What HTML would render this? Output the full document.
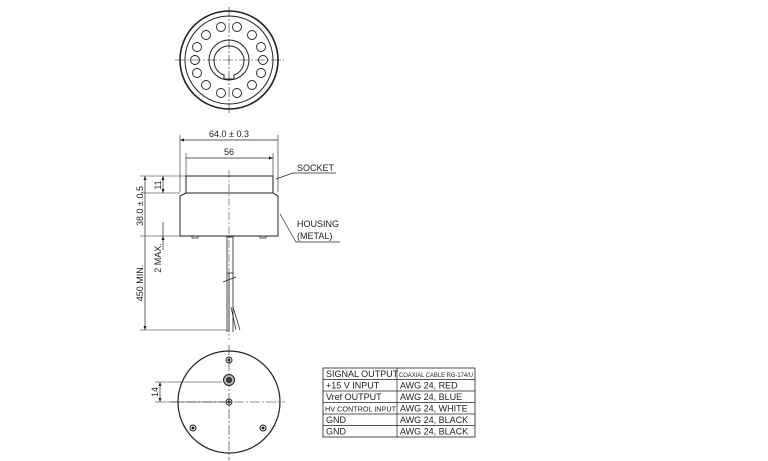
<!DOCTYPE html>
<html><head><meta charset="utf-8"><style>
html,body{margin:0;padding:0;background:#fff;}
svg{display:block;}
text{font-family:"Liberation Sans",sans-serif;fill:#222;}
</style></head><body>
<svg width="768" height="461" viewBox="0 0 768 461" xmlns="http://www.w3.org/2000/svg">
<defs>
<marker id="a" viewBox="0 0 10 10" refX="10" refY="5" markerWidth="6" markerHeight="6" orient="auto-start-reverse"><path d="M0,1L10,5L0,9z" fill="#222"/></marker>
</defs>
<g stroke="#222" fill="none" stroke-width="1">
<circle cx="229" cy="60" r="49" stroke-width="1.6"/>
<circle cx="229" cy="60" r="44"/>
<circle cx="229" cy="60" r="20"/>
<path d="M224,75 A15,15 0 1 1 234,75 L234,79 L224,79 Z"/>
<g stroke-width="0.9">
<circle cx="263" cy="60" r="4.5"/><circle cx="195" cy="60" r="4.5"/>
<circle cx="261" cy="47" r="4.5"/><circle cx="261" cy="73" r="4.5"/>
<circle cx="197" cy="47" r="4.5"/><circle cx="197" cy="73" r="4.5"/>
<circle cx="252" cy="35" r="4.5"/><circle cx="252" cy="85" r="4.5"/>
<circle cx="206" cy="35" r="4.5"/><circle cx="206" cy="85" r="4.5"/>
<circle cx="237" cy="27" r="4.5"/><circle cx="237" cy="93" r="4.5"/>
<circle cx="221" cy="27" r="4.5"/><circle cx="221" cy="93" r="4.5"/>
</g>
<path d="M229,7V115M175,60H284" stroke-width="0.6" stroke-dasharray="10,2,2,2"/>
<path d="M180,135V192M278,135V192M186,153V176M273,153V176" stroke-width="0.6"/>
<path d="M180,140H278M186,158H273" stroke-width="0.7" marker-start="url(#a)" marker-end="url(#a)"/>
<rect x="186" y="176" width="87" height="17"/>
<path d="M186,193L180,196V236H278V196L273,193Z"/>
<path d="M192,236v2h6v-2M260,236v2h6v-2" stroke-width="0.7"/>
<path d="M229,170V340" stroke-width="0.5" stroke-dasharray="8,2,2,2"/>
<rect x="227" y="237" width="6" height="36" stroke-width="0.8"/>
<path d="M227,273V332M233,273V332M229,273V332" stroke-width="0.8"/>
<path d="M233,307L240,330M231,307L236,330" stroke-width="0.7"/>
<path d="M223,282L236,277" stroke-width="0.8"/>
<path d="M140,176H186M140,236H228M140,193H180" stroke-width="0.6"/>
<path d="M145,176V236M145,236V330" stroke-width="0.7" marker-start="url(#a)" marker-end="url(#a)"/>
<path d="M163,176V193" stroke-width="0.7" marker-start="url(#a)" marker-end="url(#a)"/>
<path d="M163,222V236M163,250V236" stroke-width="0.7" marker-end="url(#a)"/>
<path d="M140,330H227" stroke-width="0.6"/>
<path d="M276,179L293,173H336" stroke-width="0.7"/>
<path d="M280,214L296,242H340" stroke-width="0.7"/>
<circle cx="229" cy="402" r="51" stroke-width="1.2"/>
<path d="M229,345V460M170,402H285" stroke-width="0.6" stroke-dasharray="10,2,2,2"/>
<circle cx="229" cy="360" r="3"/><circle cx="229" cy="360" r="1" fill="#222"/>
<circle cx="229" cy="380" r="5.5" fill="#bbb"/><circle cx="229" cy="380" r="2.5" fill="#444"/>
<circle cx="229" cy="402" r="3"/><circle cx="229" cy="402" r="1" fill="#222"/>
<circle cx="193" cy="428" r="3"/><circle cx="193" cy="428" r="1" fill="#222"/>
<circle cx="263" cy="428" r="3"/><circle cx="263" cy="428" r="1" fill="#222"/>
<path d="M155,382H222M155,402H225" stroke-width="0.6"/>
<path d="M160,382V402" stroke-width="0.7" marker-start="url(#a)" marker-end="url(#a)"/>
<rect x="323" y="368" width="152" height="69" stroke-width="0.8"/>
<path d="M397,368V437M323,379.5H475M323,391H475M323,402.5H475M323,414H475M323,425.5H475" stroke-width="0.7"/>
</g>
<g font-size="9">
<text x="229" y="137" text-anchor="middle">64.0 ± 0.3</text>
<text x="229" y="155" text-anchor="middle">56</text>
<text x="297" y="171">SOCKET</text>
<text x="297" y="227">HOUSING</text>
<text x="297" y="239">(METAL)</text>
<text transform="translate(143,206) rotate(-90)" text-anchor="middle">38.0 ± 0.5</text>
<text transform="translate(161,185) rotate(-90)" text-anchor="middle">11</text>
<text transform="translate(161,258) rotate(-90)" text-anchor="middle">2 MAX.</text>
<text transform="translate(143,283) rotate(-90)" text-anchor="middle">450 MIN.</text>
<text transform="translate(158,392) rotate(-90)" text-anchor="middle">14</text>
<text x="326" y="377">SIGNAL OUTPUT</text>
<text x="399" y="377" font-size="6.5" textLength="74" lengthAdjust="spacingAndGlyphs">COAXIAL CABLE RG-174/U</text>
<text x="326" y="388.5">+15 V INPUT</text><text x="400" y="388.5">AWG 24, RED</text>
<text x="326" y="400">Vref OUTPUT</text><text x="400" y="400">AWG 24, BLUE</text>
<text x="325" y="411.5" font-size="7" textLength="71" lengthAdjust="spacingAndGlyphs">HV CONTROL INPUT</text><text x="400" y="411.5">AWG 24, WHITE</text>
<text x="326" y="423">GND</text><text x="400" y="423">AWG 24, BLACK</text>
<text x="326" y="434.5">GND</text><text x="400" y="434.5">AWG 24, BLACK</text>
</g>
</svg>
</body></html>
